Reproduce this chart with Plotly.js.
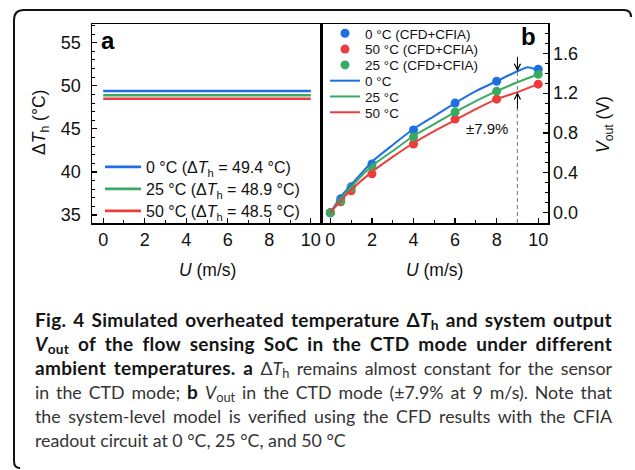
<!DOCTYPE html>
<html>
<head>
<meta charset="utf-8">
<script src="https://cdn.plot.ly/plotly-3.0.1.min.js"></script>
<style>
html,body{margin:0;padding:0;background:#fff;}
#wrap{position:relative;width:635px;height:470px;overflow:hidden;}
#chart{position:absolute;left:0;top:0;width:635px;height:470px;}
#cap{position:absolute;left:35px;top:308px;width:577px;font-family:Lato,'Open Sans',sans-serif;font-size:17.8px;line-height:24px;color:#333;}
#cap div{white-space:nowrap;height:24px;}
#cap span.ln{display:inline-block;}
#cap b{color:#151515;font-size:19px;letter-spacing:0.3px;}
#cap sub{font-size:0.72em;vertical-align:-0.25em;line-height:0;}
</style>
</head>
<body>
<div id="wrap">
<div id="chart"></div>
<div id="cap"></div>
</div>
<script>
// ---------- data ----------
// Panel a: overheated temperature vs wind speed
const uA = [0, 10];
const dT0 = [49.4, 49.4];
const dT25 = [48.9, 48.9];
const dT50 = [48.5, 48.5];

// Panel b: CFD+CFIA simulated points
const uPts = [0, 0.5, 1, 2, 4, 6, 8, 10];
const vPts0 = [0.00, 0.14, 0.26, 0.49, 0.83, 1.10, 1.32, 1.44];
const vPts50 = [0.00, 0.11, 0.22, 0.39, 0.69, 0.94, 1.14, 1.29];
const vPts25 = [0.00, 0.12, 0.25, 0.46, 0.76, 1.01, 1.22, 1.39];

// Panel b: system-level model curves
const uLine = [0, 0.5, 1, 2, 3, 4, 5, 6, 7, 8, 9, 9.5, 10];
const vLine0 = [0.00, 0.16, 0.28, 0.51, 0.68, 0.84, 0.97, 1.10, 1.22, 1.32, 1.42, 1.46, 1.43];
const vLine25 = [0.00, 0.14, 0.26, 0.47, 0.62, 0.77, 0.89, 1.01, 1.12, 1.22, 1.31, 1.35, 1.39];
const vLine50 = [0.00, 0.12, 0.23, 0.41, 0.56, 0.70, 0.82, 0.93, 1.04, 1.14, 1.21, 1.25, 1.29];

const markU = 9;            // wind speed of the spread annotation
const spreadText = '±7.9%';

const tickA_y = [35, 40, 45, 50, 55];
const tickB_y = [0.0, 0.4, 0.8, 1.2, 1.6];
const tickX = [0, 2, 4, 6, 8, 10];

const captionLines = [
  '<b>Fig. 4 Simulated overheated temperature Δ<i>T</i><sub>h</sub> and system output</b>',
  '<b><i>V</i><sub>out</sub> of the flow sensing SoC in the CTD mode under different</b>',
  '<b>ambient temperatures. a</b> Δ<i>T</i><sub>h</sub> remains almost constant for the sensor',
  'in the CTD mode; <b>b</b> <i>V</i><sub>out</sub> in the CTD mode (±7.9% at 9 m/s). Note that',
  'the system-level model is verified using the CFD results with the CFIA',
  'readout circuit at 0 °C, 25 °C, and 50 °C'
];

// ---------- styling ----------
const BLUE = '#1f6fe3', GREEN = '#38aa62', RED = '#ec3d3b';
const W = 635, H = 470;
const px = x => x / W;
const py = y => 1 - y / H;
const FONT = 'Liberation Sans, Arial, Helvetica, sans-serif';

const traces = [
  {x: uA, y: dT0, mode: 'lines', line: {color: BLUE, width: 2.6}, name: '0 °C (Δ<i>T</i><sub>h</sub> = 49.4 °C)', xaxis: 'x', yaxis: 'y', legend: 'legend'},
  {x: uA, y: dT25, mode: 'lines', line: {color: GREEN, width: 2.6}, name: '25 °C (Δ<i>T</i><sub>h</sub> = 48.9 °C)', xaxis: 'x', yaxis: 'y', legend: 'legend'},
  {x: uA, y: dT50, mode: 'lines', line: {color: RED, width: 2.6}, name: '50 °C (Δ<i>T</i><sub>h</sub> = 48.5 °C)', xaxis: 'x', yaxis: 'y', legend: 'legend'},

  {x: uPts, y: vPts0, mode: 'markers', marker: {color: BLUE, size: 9}, name: '0 °C (CFD+CFIA)', xaxis: 'x2', yaxis: 'y2', legend: 'legend2'},
  {x: uPts, y: vPts50, mode: 'markers', marker: {color: RED, size: 9}, name: '50 °C (CFD+CFIA)', xaxis: 'x2', yaxis: 'y2', legend: 'legend2'},
  {x: uPts, y: vPts25, mode: 'markers', marker: {color: GREEN, size: 9}, name: '25 °C (CFD+CFIA)', xaxis: 'x2', yaxis: 'y2', legend: 'legend2'},
  {x: uLine, y: vLine0, mode: 'lines', line: {color: BLUE, width: 2, shape: 'spline', smoothing: 0.6}, name: '0 °C', xaxis: 'x2', yaxis: 'y2', legend: 'legend2'},
  {x: uLine, y: vLine25, mode: 'lines', line: {color: GREEN, width: 2, shape: 'spline', smoothing: 0.6}, name: '25 °C', xaxis: 'x2', yaxis: 'y2', legend: 'legend2'},
  {x: uLine, y: vLine50, mode: 'lines', line: {color: RED, width: 2, shape: 'spline', smoothing: 0.6}, name: '50 °C', xaxis: 'x2', yaxis: 'y2', legend: 'legend2'}
];

const iMark = uLine.indexOf(markU);
const vTop = vLine0[iMark];
const vBot = vLine50[iMark];

const axBase = {
  showline: true, linecolor: '#000', linewidth: 1.5, mirror: true,
  ticks: 'inside', ticklen: 5, tickwidth: 1.2, tickcolor: '#000',
  showgrid: false, zeroline: false,
  tickfont: {family: FONT, size: 18, color: '#111'}
};
const minorBase = {ticklen: 3, ticks: 'inside', tickcolor: '#000', tickwidth: 1};

const layout = {
  width: W, height: H,
  margin: {l: 0, r: 0, t: 0, b: 0},
  paper_bgcolor: 'rgba(0,0,0,0)', plot_bgcolor: 'rgba(0,0,0,0)',
  font: {family: FONT, size: 17, color: '#111'},
  showlegend: true,
  xaxis: Object.assign({}, axBase, {
    domain: [px(92), px(321)], range: [-0.54, 10.49], anchor: 'y',
    tickmode: 'array', tickvals: tickX, ticktext: tickX.map(String),
    minor: Object.assign({dtick: 1, tick0: 0}, minorBase)
  }),
  yaxis: Object.assign({}, axBase, {
    domain: [py(223), py(24)], range: [34.07, 57.17], anchor: 'x',
    tickmode: 'array', tickvals: tickA_y, ticktext: tickA_y.map(String),
    ticklabelstandoff: 6,
    minor: Object.assign({dtick: 1, tick0: 0}, minorBase)
  }),
  xaxis2: Object.assign({}, axBase, {
    domain: [px(321), px(548)], range: [-0.45, 10.47], anchor: 'y2',
    tickmode: 'array', tickvals: tickX, ticktext: tickX.map(String),
    minor: Object.assign({dtick: 1, tick0: 0}, minorBase)
  }),
  yaxis2: Object.assign({}, axBase, {
    domain: [py(223), py(24)], range: [-0.103, 1.894], anchor: 'x2', side: 'right',
    tickmode: 'array', tickvals: tickB_y, ticktext: tickB_y.map(v => v.toFixed(1)),
    minor: Object.assign({dtick: 0.1, tick0: 0}, minorBase)
  }),
  legend: {
    x: px(100), y: py(150), xanchor: 'left', yanchor: 'top',
    bgcolor: 'rgba(0,0,0,0)', borderwidth: 0, tracegroupgap: 0,
    font: {family: FONT, size: 16, color: '#111'}, itemwidth: 36
  },
  legend2: {
    x: px(325), y: py(18), xanchor: 'left', yanchor: 'top',
    bgcolor: 'rgba(0,0,0,0)', borderwidth: 0, tracegroupgap: 0,
    font: {family: FONT, size: 13.5, color: '#111'}
  },
  shapes: [
    {type: 'line', xref: 'x2', yref: 'y2', x0: markU, x1: markU, y0: -0.103, y1: vTop,
     line: {color: '#888', width: 1.2, dash: '4px,3px'}},
    {type: 'path', xref: 'paper', yref: 'paper',
     path: `M ${px(631)},${py(17)} Q ${px(631)},${py(10)} ${px(624)},${py(10)} L ${px(24)},${py(10)} Q ${px(14)},${py(10)} ${px(14)},${py(20)} L ${px(14)},${py(461)} Q ${px(14)},${py(468)} ${px(20)},${py(468)}`,
     line: {color: '#111', width: 2}}
  ],
  annotations: [
    {text: '<b>a</b>', x: px(99), y: py(41), xref: 'paper', yref: 'paper', xanchor: 'left', yanchor: 'middle', showarrow: false, font: {family: FONT, size: 24, color: '#000'}},
    {text: '<b>b</b>', x: px(519), y: py(37), xref: 'paper', yref: 'paper', xanchor: 'left', yanchor: 'middle', showarrow: false, font: {family: FONT, size: 24, color: '#000'}},
    {text: '<i>U</i> (m/s)', x: px(207), y: py(270), xref: 'paper', yref: 'paper', xanchor: 'center', yanchor: 'middle', showarrow: false, font: {family: FONT, size: 17.5}},
    {text: '<i>U</i> (m/s)', x: px(434), y: py(270), xref: 'paper', yref: 'paper', xanchor: 'center', yanchor: 'middle', showarrow: false, font: {family: FONT, size: 17.5}},
    {text: 'Δ<i>T</i><sub>h</sub> (°C)', x: px(40), y: py(123), xref: 'paper', yref: 'paper', xanchor: 'center', yanchor: 'middle', textangle: -90, showarrow: false, font: {family: FONT, size: 17.5}},
    {text: '<i>V</i><sub>out</sub> (V)', x: px(604), y: py(125), xref: 'paper', yref: 'paper', xanchor: 'center', yanchor: 'middle', textangle: -90, showarrow: false, font: {family: FONT, size: 17.5}},
    {text: spreadText, x: 7.55, y: 0.85, xref: 'x2', yref: 'y2', xanchor: 'center', yanchor: 'middle', showarrow: false, font: {family: FONT, size: 15}},
    {text: '', x: markU, y: vTop, xref: 'x2', yref: 'y2', ax: markU, ay: 1.58, axref: 'x2', ayref: 'y2', showarrow: true, arrowhead: 5, arrowsize: 1.2, arrowwidth: 1, arrowcolor: '#000'},
    {text: '', x: markU, y: vBot, xref: 'x2', yref: 'y2', ax: markU, ay: 1.03, axref: 'x2', ayref: 'y2', showarrow: true, arrowhead: 5, arrowsize: 1.2, arrowwidth: 1, arrowcolor: '#000'}
  ]
};

// caption (justified text block under the figure)
const CAP_W = 577;
const cap = document.getElementById('cap');
captionLines.forEach((t, i) => {
  const d = document.createElement('div');
  const s = document.createElement('span');
  s.className = 'ln';
  s.innerHTML = t;
  d.appendChild(s);
  if (i === captionLines.length - 1) d.className = 'last';
  cap.appendChild(d);
});
function justifyCaption() {
  cap.querySelectorAll('div').forEach(d => {
    const s = d.firstChild;
    s.style.wordSpacing = '0px';
    if (d.classList.contains('last')) return;
    const w = s.getBoundingClientRect().width;
    const n = (s.textContent.match(/ /g) || []).length;
    if (n > 0) s.style.wordSpacing = ((CAP_W - w) / n) + 'px';
  });
}
justifyCaption();
if (document.fonts && document.fonts.ready) document.fonts.ready.then(justifyCaption);

// tighten legend row spacing to the reference's
function respace(gd, cls, step) {
  const g = gd.querySelector('g.' + cls);
  if (!g) return;
  const items = g.querySelectorAll('g.traces');
  if (!items.length) return;
  const re = /translate\(\s*([-\d.e]+)[ ,]+([-\d.e]+)\s*\)/;
  const m0 = re.exec(items[0].getAttribute('transform') || '');
  if (!m0) return;
  const y0 = parseFloat(m0[2]);
  items.forEach((it, i) => {
    const m = re.exec(it.getAttribute('transform') || '');
    const x = m ? parseFloat(m[1]) : 0;
    it.setAttribute('transform', `translate(${x},${y0 + i * step})`);
  });
}

Plotly.newPlot('chart', traces, layout, {displayModeBar: false, staticPlot: true}).then(gd => {
  respace(gd, 'legend', 22);
  respace(gd, 'legend2', 15.8);
});
</script>
</body>
</html>
